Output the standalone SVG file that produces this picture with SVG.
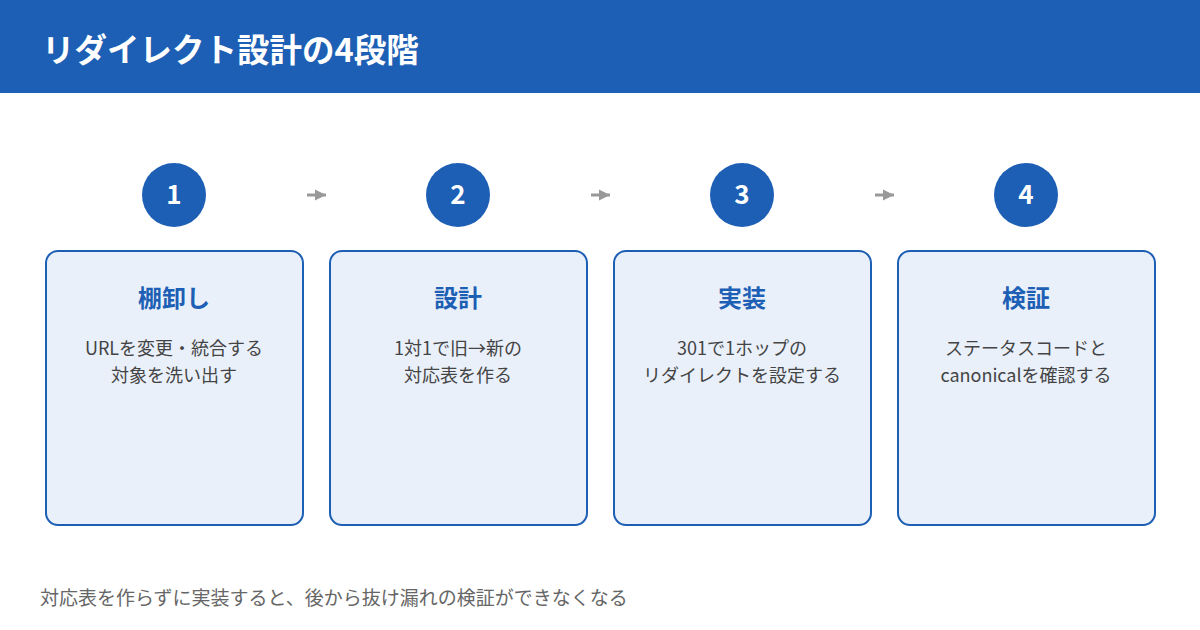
<svg xmlns="http://www.w3.org/2000/svg" width="1200" height="630" viewBox="0 0 1200 630">
<defs>
<style>
text{font-family:"Noto Sans CJK JP","Noto Sans",sans-serif;}
.title{font-size:32.5px;font-weight:700;fill:#ffffff;}
.card{fill:#e9f0fa;stroke:#1d5fb4;stroke-width:2;}
.circ{fill:#1d5fb4;}
.num{font-size:26px;font-weight:700;fill:#ffffff;text-anchor:middle;}
.ct{font-size:24px;font-weight:700;fill:#1d5fb4;text-anchor:middle;}
.cd{font-size:18px;fill:#444444;text-anchor:middle;}
.foot{font-size:19px;fill:#666666;}
.conn{stroke:#999999;stroke-width:3;fill:none;}
</style>
<marker id="ah" viewBox="0 0 10 10" refX="10" refY="5" markerWidth="3.7" markerHeight="4" orient="auto" markerUnits="strokeWidth">
<path d="M0,0 L10,5 L0,10 z" fill="#999999"/>
</marker>
</defs>
<rect x="0" y="0" width="1200" height="93" fill="#1d5fb4"/>
<text class="title" x="42" y="62">リダイレクト設計の4段階</text>
<g id="connectors">
<line class="conn" x1="307" y1="195" x2="326" y2="195" marker-end="url(#ah)"/>
<line class="conn" x1="591" y1="195" x2="610" y2="195" marker-end="url(#ah)"/>
<line class="conn" x1="875" y1="195" x2="894" y2="195" marker-end="url(#ah)"/>
</g>
<g id="step1">
<circle class="circ" cx="174" cy="195" r="32"/>
<text class="num" x="174" y="204">1</text>
<rect class="card" x="46" y="251" width="257" height="274" rx="12"/>
<text class="ct" x="174" y="307">棚卸し</text>
<text class="cd" x="174" y="355">URLを変更・統合する</text>
<text class="cd" x="174" y="382">対象を洗い出す</text>
</g>
<g id="step2">
<circle class="circ" cx="458" cy="195" r="32"/>
<text class="num" x="458" y="204">2</text>
<rect class="card" x="330" y="251" width="257" height="274" rx="12"/>
<text class="ct" x="458" y="307">設計</text>
<text class="cd" x="458" y="355">1対1で旧→新の</text>
<text class="cd" x="458" y="382">対応表を作る</text>
</g>
<g id="step3">
<circle class="circ" cx="742" cy="195" r="32"/>
<text class="num" x="742" y="204">3</text>
<rect class="card" x="614" y="251" width="257" height="274" rx="12"/>
<text class="ct" x="742" y="307">実装</text>
<text class="cd" x="742" y="355">301で1ホップの</text>
<text class="cd" x="742" y="382">リダイレクトを設定する</text>
</g>
<g id="step4">
<circle class="circ" cx="1026" cy="195" r="32"/>
<text class="num" x="1026" y="204">4</text>
<rect class="card" x="898" y="251" width="257" height="274" rx="12"/>
<text class="ct" x="1026" y="307">検証</text>
<text class="cd" x="1026" y="355">ステータスコードと</text>
<text class="cd" x="1026" y="382">canonicalを確認する</text>
</g>
<text class="foot" x="40" y="605">対応表を作らずに実装すると、後から抜け漏れの検証ができなくなる</text>
</svg>
